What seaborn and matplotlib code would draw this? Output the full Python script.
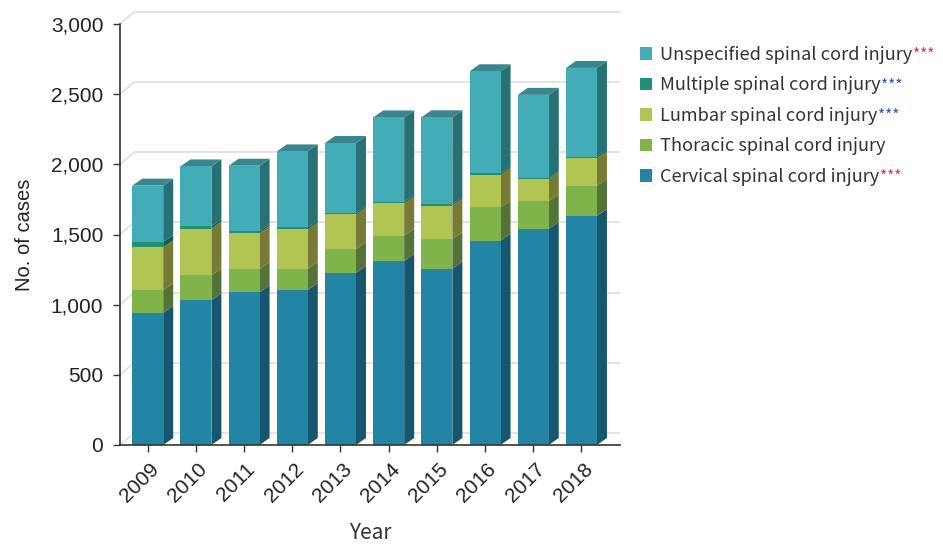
import matplotlib
matplotlib.use("Agg")
import matplotlib.pyplot as plt
from matplotlib.patches import Polygon, Patch
import matplotlib.transforms as mtransforms
import seaborn as sns
import numpy as np

# Annual spinal cord injury cases by level
years = ["2009", "2010", "2011", "2012", "2013", "2014", "2015", "2016", "2017", "2018"]
cervical = [941, 1031, 1088, 1105, 1226, 1311, 1257, 1456, 1540, 1632]
thoracic = [164, 178, 166, 152, 171, 181, 211, 238, 199, 216]
lumbar = [304, 333, 257, 280, 247, 230, 238, 230, 154, 195]
multiple = [38, 17, 14, 14, 12, 12, 12, 12, 8, 12]
unspecified = [401, 426, 465, 541, 496, 600, 617, 727, 594, 632]

series_names = [
    "Cervical spinal cord injury",
    "Thoracic spinal cord injury",
    "Lumbar spinal cord injury",
    "Multiple spinal cord injury",
    "Unspecified spinal cord injury",
]
series_values = [cervical, thoracic, lumbar, multiple, unspecified]
significance = ["***", "", "***", "***", "***"]
sig_colors = ["#e8353f", None, "#3550c4", "#3550c4", "#e8353f"]

front_colors = ["#2384a6", "#80b44a", "#b1c553", "#1f8f76", "#42adb7"]
side_colors = ["#16566e", "#537436", "#777b33", "#0e5e4a", "#267076"]
top_color = "#3a868d"

y_ticks = [0, 500, 1000, 1500, 2000, 2500, 3000]

sns.set_theme(style="white")
plt.rcParams["font.family"] = ["Liberation Sans", "DejaVu Sans"]
label_font = ["Noto Sans CJK KR", "DejaVu Sans"]

W, H = 943, 545
fig = plt.figure(figsize=(W / 100, H / 100), dpi=100)
ax = fig.add_axes([120 / W, 100 / H, 500 / W, 421 / H])

cum = np.cumsum(np.array(series_values, dtype=float), axis=0)
bar_w = 0.643

# front faces: cumulative totals drawn from the top layer down
for k in range(len(series_values) - 1, -1, -1):
    sns.barplot(x=years, y=cum[k], color=front_colors[k], saturation=1,
                width=bar_w, errorbar=None, ax=ax, zorder=3,
                edgecolor=front_colors[k], linewidth=0)

xmin, xmax = -0.575, 9.80
ax.set_xlim(xmin, xmax)
ax.set_ylim(0, 3000)

# pixel -> data conversion for the depth faces
p0, p1 = ax.transData.transform([(0, 0), (1, 1)])
ppx, ppy = p1[0] - p0[0], p1[1] - p0[1]
dx, dy = 10 / ppx, 7 / ppy
gdx, gdy = 14 / ppx, 12 / ppy

# back wall grid
for v in y_ticks:
    ax.plot([xmin, xmin + gdx], [v, v + gdy], color="#e0e0e0", lw=1.3,
            zorder=0, clip_on=False, solid_capstyle="butt")
    ax.plot([xmin + gdx, xmax], [v + gdy, v + gdy], color="#e0e0e0", lw=1.3,
            zorder=0, clip_on=False, solid_capstyle="butt")

# side and top faces
for i in range(len(years)):
    xl, xr = i - bar_w / 2, i + bar_w / 2
    for k in range(len(series_values)):
        b = 0 if k == 0 else cum[k - 1][i]
        t = cum[k][i]
        ax.add_patch(Polygon([(xr, b), (xr + dx, b + dy), (xr + dx, t + dy), (xr, t)],
                             closed=True, facecolor=side_colors[k], edgecolor="none",
                             zorder=2, clip_on=False))
    t = cum[-1][i]
    ax.add_patch(Polygon([(xl, t), (xl + dx, t + dy), (xr + dx, t + dy), (xr, t)],
                         closed=True, facecolor=top_color, edgecolor="none",
                         zorder=2, clip_on=False))

# axes styling
for s in ["top", "right"]:
    ax.spines[s].set_visible(False)
for s in ["left", "bottom"]:
    ax.spines[s].set_color("#333333")
    ax.spines[s].set_linewidth(1.2)
    ax.spines[s].set_zorder(5)

ax.set_yticks(y_ticks)
ax.set_yticklabels([f"{v:,}" for v in y_ticks])
ax.set_xticks(range(len(years)))
ax.set_xticklabels(years, rotation=45, ha="right", va="center", rotation_mode="anchor")
ax.tick_params(axis="both", direction="out", length=5, width=1, color="#333333",
               labelsize=15, labelcolor="#222222")
ax.tick_params(axis="y", pad=7, left=True)
ax.tick_params(axis="x", pad=10, bottom=True)
shift = mtransforms.ScaledTranslation(6 / 72, 0, fig.dpi_scale_trans)
for lab in ax.get_xticklabels():
    lab.set_transform(lab.get_transform() + shift)

ax.set_ylabel("No. of cases", fontsize=14.5, color="#222222")
ax.yaxis.label.set_va("center")
ax.yaxis.set_label_coords(-0.19, 0.5)
ax.set_xlabel("Year", fontsize=15, color="#333333", family=label_font)
ax.xaxis.label.set_va("center")
ax.xaxis.set_label_coords(0.5, -0.209)

# legend, top entry first
leg_size = 13.1
fs_px = leg_size * 100 / 72
order = list(range(len(series_names) - 1, -1, -1))
handles = [Patch(facecolor=front_colors[k], edgecolor="none") for k in order]
labels = [series_names[k] for k in order]
leg = ax.legend(handles, labels, loc="upper left", bbox_to_anchor=(640 / W, 1 - 46 / H),
                bbox_transform=fig.transFigure, frameon=False,
                prop={"family": label_font, "size": leg_size},
                handlelength=12 / fs_px, handleheight=12 / fs_px, handletextpad=8 / fs_px,
                labelspacing=(31.5 - 1.045 * fs_px) / fs_px, borderaxespad=0, borderpad=0)
for t in leg.get_texts():
    t.set_color("#333333")

fig.canvas.draw()
renderer = fig.canvas.get_renderer()
for t, k in zip(leg.get_texts(), order):
    if not significance[k]:
        continue
    bb = t.get_window_extent(renderer)
    fig.text((bb.x1 + 0.5) / W, (bb.y1 - 1) / H, significance[k], color=sig_colors[k],
             fontsize=11, ha="left", va="top", family=label_font)

fig.savefig("out.png", dpi=100)
